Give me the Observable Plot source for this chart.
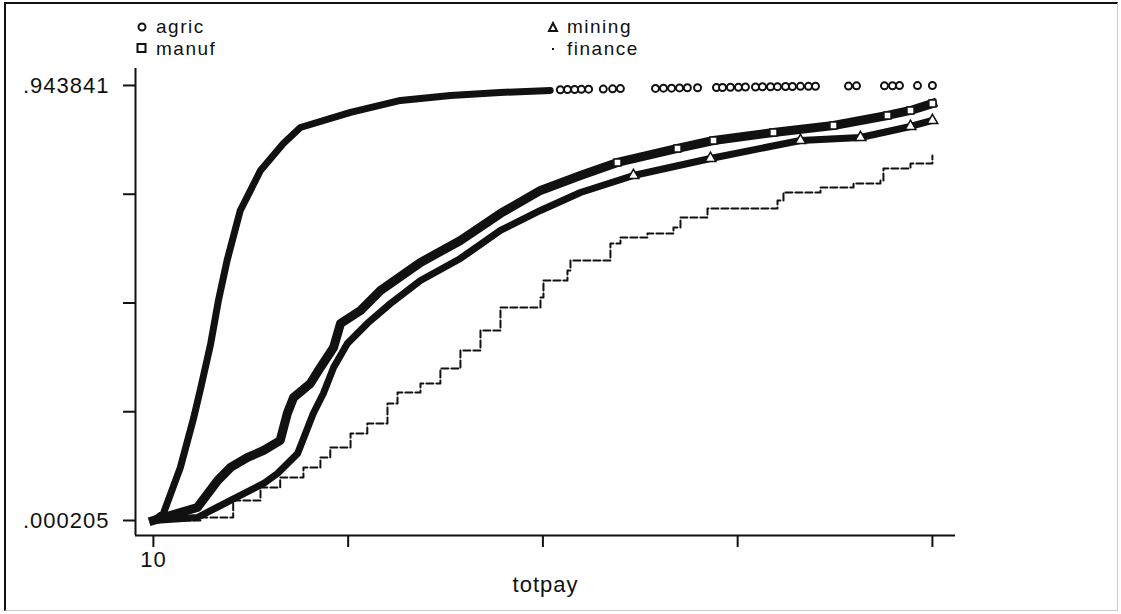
<!DOCTYPE html>
<html><head><meta charset="utf-8">
<script src="https://cdn.jsdelivr.net/npm/d3@7"></script>
<script src="https://cdn.jsdelivr.net/npm/@observablehq/plot@0.6"></script>
<style>
body{margin:0;background:#fff;font-family:"Liberation Sans",Arial,sans-serif;}
#wrap{position:relative;width:1121px;height:614px;overflow:hidden;background:#fff;}
#border{position:absolute;left:4px;top:2px;width:1111px;height:606px;border-top:2px solid #111;border-left:2px solid #111;border-right:1px solid #ccc;border-bottom:1px solid #ccc;pointer-events:none;}
#chart{position:absolute;left:0;top:0;}
.leg{position:absolute;font-size:19px;letter-spacing:1.5px;color:#111;}
.leg div{display:flex;align-items:center;height:21.5px;}
.leg span{display:inline-block;line-height:21px;height:21px;}
.leg svg{margin-right:8px;flex:none}
#chart svg text{letter-spacing:1px}
</style></head><body>
<div id="wrap"><div id="chart"></div><div id="border"></div>
<div class="leg" id="leg1" style="left:136px;top:16px"></div>
<div class="leg" id="leg2" style="left:547px;top:16px"></div></div>
<script>
// ---- data ----
const series = ["agric", "manuf", "mining", "finance"];

const agricX = [10, 10.83, 12.4, 13.8, 14.6, 15.8, 16.8, 18.0, 20.0, 23.5, 28.2, 32.3, 48.2, 71.8, 107, 159, 237];
const agricY = [0.0002, 0.0154, 0.1152, 0.2236, 0.2887, 0.3842, 0.4774, 0.5642, 0.6727, 0.7594, 0.8180, 0.8527, 0.8853, 0.9113, 0.9222, 0.9287, 0.9330];

const agricTailX = [257, 272, 288, 304, 322, 362, 390, 415, 549, 585, 624, 665, 708, 768, 893, 937, 998, 1064, 1125, 1219, 1289, 1374, 1453, 1549, 1637, 1745, 1860, 1967, 2560, 2729, 3411, 3637, 3845, 4439, 5000];
const agricTailY = [0.9345, 0.9350, 0.9352, 0.9355, 0.9358, 0.9360, 0.9365, 0.9370, 0.9375, 0.9380, 0.9380, 0.9385, 0.9390, 0.9390, 0.9395, 0.9395, 0.9400, 0.9400, 0.9405, 0.9405, 0.9410, 0.9410, 0.9412, 0.9415, 0.9415, 0.9420, 0.9420, 0.9422, 0.9425, 0.9430, 0.9430, 0.9432, 0.9435, 0.9435, 0.943841];

const manufX = [10, 14.2, 16.7, 18.5, 21.2, 24.1, 27.5, 29.1, 30.6, 35.0, 37.9, 42.1, 44.5, 52.2, 61.2, 84.2, 115.8, 159.4, 219.3, 301.7, 405.3, 654.3, 872, 1407, 2271, 3494, 4198, 5000];
const manufY = [0.0002, 0.0284, 0.0870, 0.1152, 0.1369, 0.1521, 0.1737, 0.2323, 0.2670, 0.2974, 0.3321, 0.3755, 0.4276, 0.4558, 0.4991, 0.5599, 0.6076, 0.6662, 0.7161, 0.7486, 0.7768, 0.8072, 0.8245, 0.8419, 0.8571, 0.8788, 0.8896, 0.9048];

const miningX = [10, 14.2, 18.5, 24.1, 26.9, 31.6, 35.8, 38.8, 42.1, 47.0, 55.1, 66.3, 84.2, 115.8, 159.4, 219.3, 301.7, 460.5, 851.1, 1745, 2817, 4198, 5000];
const miningY = [0.0002, 0.0067, 0.0436, 0.0805, 0.1022, 0.1456, 0.2323, 0.2757, 0.3321, 0.3842, 0.4276, 0.4709, 0.5208, 0.5686, 0.6293, 0.6727, 0.7117, 0.7486, 0.7855, 0.8245, 0.8310, 0.8549, 0.8679];

const financeX = [10, 14.6, 18.9, 23.5, 27.5, 33.1, 37.9, 41.0, 48.2, 55.1, 64.7, 70.1, 84.2, 98.7, 115.8, 135.9, 159.4, 219.3, 224.6, 272, 278.6, 383.2, 415.2, 514.9, 633.7, 670.1, 831.3, 1453, 1524, 2048, 2665, 3304, 3383, 4198, 5000];
const financeY = [0.0002, 0.0067, 0.0436, 0.0718, 0.0935, 0.1152, 0.1369, 0.1586, 0.1889, 0.2106, 0.2540, 0.2779, 0.2974, 0.3299, 0.3690, 0.4124, 0.4623, 0.4840, 0.5208, 0.5425, 0.5642, 0.6011, 0.6141, 0.6228, 0.6358, 0.6575, 0.6770, 0.6944, 0.7117, 0.7226, 0.7313, 0.7378, 0.7638, 0.7746, 0.7920];

const xTicks = [10, 47.29, 223.61, 1057.4, 5000];
const xTickLabels = ["10", "", "", "", "5000"];
const yTicks = [0.000205, 0.236114, 0.472023, 0.707932, 0.943841];
const yTickLabels = [".000205", "", "", "", ".943841"];
const xTitle = "totpay";

// ---- build tables ----
const tbl = (xs, ys) => xs.map((x, i) => ({x, y: ys[i]}));
const agric = tbl(agricX, agricY);
const agricTail = tbl(agricTailX, agricTailY);
const manuf = tbl(manufX, manufY);
const mining = tbl(miningX, miningY);
const finance = tbl(financeX, financeY);

const xLab = new Map(xTicks.map((t, i) => [t, xTickLabels[i]]));
const yLab = new Map(yTicks.map((t, i) => [t, yTickLabels[i]]));

// padded domains (Stata-style gap between axis line and data range)
const xPadDec = [0.062, 0.08];
const xDomain = [xTicks[0] / Math.pow(10, xPadDec[0]), xTicks[4] * Math.pow(10, xPadDec[1])];
const ySpan = yTicks[4] - yTicks[0];
const yDomain = [yTicks[0] - ySpan * 0.0345, yTicks[4] + ySpan * 0.039];

const ink = "#111";
const chart = Plot.plot({
  width: 1121, height: 614,
  marginTop: 68, marginBottom: 79, marginLeft: 135, marginRight: 166,
  style: {fontFamily: '"Liberation Sans", Arial, sans-serif', fontSize: "22px", color: ink, background: "transparent"},
  x: {type: "log", domain: xDomain},
  y: {domain: yDomain},
  marks: [
    Plot.ruleX([xDomain[0]], {stroke: ink, strokeWidth: 2}),
    Plot.ruleY([yDomain[0]], {stroke: ink, strokeWidth: 2}),
    Plot.axisY({ticks: yTicks, tickFormat: d => yLab.get(d) ?? "", tickSize: 12, tickPadding: 14, strokeWidth: 2, label: null}),
    Plot.axisX({ticks: xTicks, tickFormat: d => xLab.get(d) ?? "", tickSize: 12, tickPadding: 4, strokeWidth: 2, label: null}),
    Plot.text([xTitle], {frameAnchor: "bottom", dy: 56, fontSize: 22, fill: ink}),
    Plot.line(finance, {x: "x", y: "y", curve: "step-after", stroke: ink, strokeWidth: 2, strokeDasharray: "7 3"}),
    Plot.line(mining, {x: "x", y: "y", stroke: ink, strokeWidth: 7, strokeLinejoin: "round", strokeLinecap: "round"}),
    Plot.line(manuf, {x: "x", y: "y", stroke: ink, strokeWidth: 9, strokeLinejoin: "round", strokeLinecap: "square"}),
    Plot.line(agric, {x: "x", y: "y", stroke: ink, strokeWidth: 7, strokeLinejoin: "round", strokeLinecap: "round"}),
    Plot.dot(manuf.filter(d => d.x >= 400), {x: "x", y: "y", symbol: "square", r: 4, stroke: ink, strokeWidth: 1.5, fill: "white"}),
    Plot.dot(mining.filter(d => d.x >= 400), {x: "x", y: "y", symbol: "triangle", r: 4, stroke: ink, strokeWidth: 1.5, fill: "white"}),
    Plot.dot(agricTail, {x: "x", y: "y", r: 3.5, stroke: ink, strokeWidth: 2, fill: "white"})
  ]
});
document.getElementById("chart").appendChild(chart);

// ---- legend ----
const sym = {
  agric: '<svg width="12" height="12"><circle cx="6" cy="6" r="3.5" fill="none" stroke="#111" stroke-width="2"/></svg>',
  manuf: '<svg width="12" height="12"><rect x="1.5" y="2" width="8" height="8" fill="none" stroke="#111" stroke-width="2"/></svg>',
  mining: '<svg width="12" height="12"><path d="M6 2 L10 10 L2 10 Z" fill="none" stroke="#111" stroke-width="2"/></svg>',
  finance: '<svg width="12" height="12"><rect x="5" y="6" width="2" height="2" fill="#111"/></svg>'
};
const legCols = [[series[0], series[1]], [series[2], series[3]]];
["leg1", "leg2"].forEach((id, c) => {
  document.getElementById(id).innerHTML = legCols[c].map(s => `<div>${sym[s]}<span>${s}</span></div>`).join("");
});
</script>
</body></html>
